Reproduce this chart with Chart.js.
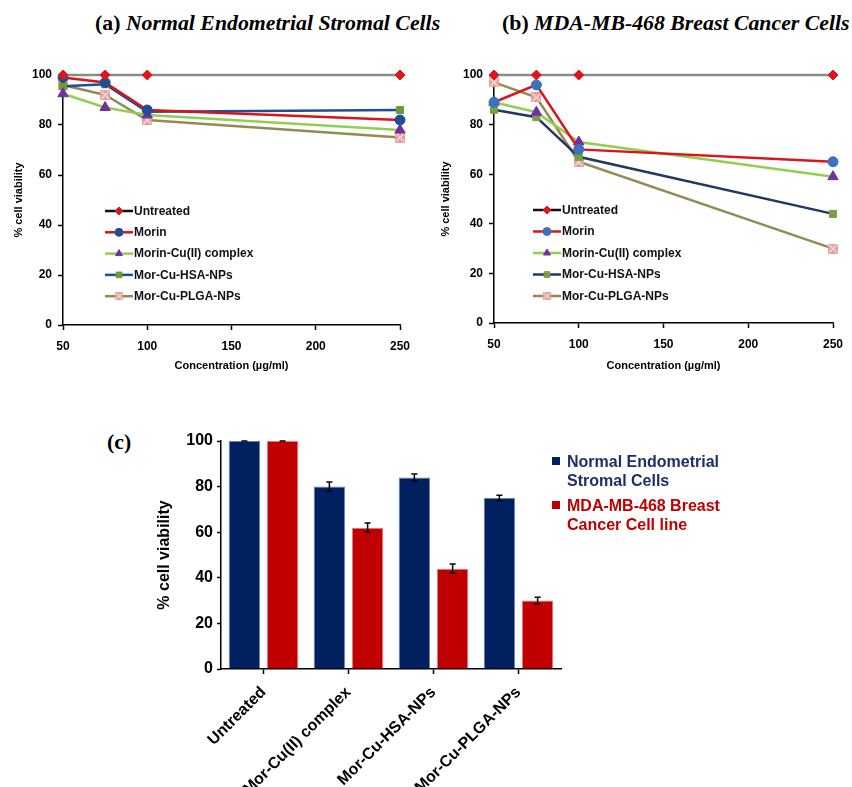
<!DOCTYPE html>
<html>
<head>
<meta charset="utf-8">
<script src="https://cdn.jsdelivr.net/npm/chart.js@4.4.0/dist/chart.umd.min.js"></script>
<style>
body{margin:0;background:#fff;}
#wrap{position:relative;width:852px;height:787px;overflow:hidden;font-family:"Liberation Sans",Arial,sans-serif;}
.box{position:absolute;}
.ttl{position:absolute;font:bold 21.8px "Liberation Serif","Times New Roman",serif;white-space:nowrap;color:#000;}
.ttl i{font-style:italic;}
#legC{position:absolute;left:552px;top:452px;font:bold 16px "Liberation Sans",Arial,sans-serif;line-height:19px;}
#legC .it{position:relative;padding-left:15px;margin-bottom:6px;white-space:nowrap;}
#legC .sw{position:absolute;left:0;top:5px;width:8px;height:8px;}
</style>
</head>
<body>
<div id="wrap">
  <div class="ttl" style="left:95px;top:11px">(a) <i>Normal Endometrial Stromal Cells</i></div>
  <div class="ttl" style="left:502px;top:11px">(b) <i>MDA-MB-468 Breast Cancer Cells</i></div>
  <div class="ttl" style="left:107px;top:430px">(c)</div>
  <div class="box" style="left:0;top:40px;width:425px;height:345px"><canvas id="chartA"></canvas></div>
  <div class="box" style="left:425px;top:40px;width:425px;height:345px"><canvas id="chartB"></canvas></div>
  <div class="box" style="left:100px;top:420px;width:470px;height:367px"><canvas id="chartC"></canvas></div>
  <div id="legC"></div>
</div>
<script>
// concentrations (µg/ml)
var concentrations = [50, 75, 100, 250];

// (a) normal endometrial stromal cells, % viability
var normalUntreated = [100, 100, 100, 100];
var normalMorin     = [99, 97, 86, 82];
var normalMorinCu   = [92.5, 87, 84, 78];
var normalHSA       = [95.5, 96.3, 85.3, 86];
var normalPLGA      = [96, 92, 82, 75];

// (b) MDA-MB-468 cells
var cancerUntreated = [100, 100, 100, 100];
var cancerMorin     = [89, 96, 70, 65];
var cancerMorinCu   = [89, 85, 73, 59];
var cancerHSA       = [86, 83, 67, 44];
var cancerPLGA      = [97, 91, 65, 30];

// (c) bars
var barCategories = ["Untreated", "Mor-Cu(II) complex", "Mor-Cu-HSA-NPs", "Mor-Cu-PLGA-NPs"];
var barNormal     = [100, 80, 84, 75];
var barNormalErr  = [0, 2, 1.5, 1.2];
var barCancer     = [100, 62, 44, 30];
var barCancerErr  = [0, 2, 2, 1.5];

Chart.defaults.font.family = '"Liberation Sans", Arial, sans-serif';
Chart.defaults.color = '#000';

// pink square with light cross marker
function xSquare(){
  var c = document.createElement('canvas');
  c.width = 10; c.height = 10;
  var g = c.getContext('2d');
  g.fillStyle = '#E3A0A0';
  g.fillRect(0, 0, 10, 10);
  g.strokeStyle = '#F6D8D8';
  g.lineWidth = 1.5;
  g.beginPath();
  g.moveTo(1, 1); g.lineTo(9, 9);
  g.moveTo(9, 1); g.lineTo(1, 9);
  g.stroke();
  return c;
}
var plgaMark = xSquare();

function lineSet(label, vals, color, style, pcolor, r, legColor){
  return {
    label: label,
    data: vals.map(function(v, i){ return {x: concentrations[i], y: v}; }),
    borderColor: color,
    backgroundColor: pcolor,
    pointBackgroundColor: pcolor,
    pointBorderColor: pcolor,
    pointBorderWidth: 1,
    pointStyle: style,
    pointRadius: r,
    borderWidth: 2.5,
    tension: 0,
    clip: false,
    legendColor: legColor || color
  };
}

// legend drawn inside the plot area (line + marker + text)
var inLegend = {
  id: 'inLegend',
  afterDraw: function(chart, args, opts){
    var ctx = chart.ctx, area = chart.chartArea;
    ctx.save();
    ctx.font = 'bold 12px "Liberation Sans", Arial, sans-serif';
    ctx.textBaseline = 'middle';
    chart.data.datasets.forEach(function(ds, i){
      var x = area.left + opts.x, y = area.top + opts.y + i * opts.gap;
      ctx.strokeStyle = ds.legendColor;
      ctx.lineWidth = 2.5;
      ctx.beginPath(); ctx.moveTo(x, y); ctx.lineTo(x + 28, y); ctx.stroke();
      ctx.fillStyle = ds.pointBackgroundColor;
      ctx.strokeStyle = ds.pointBorderColor;
      ctx.lineWidth = 1;
      var st = ds.pointStyle;
      if (typeof st === 'string') {
        Chart.helpers.drawPoint(ctx, {pointStyle: st, radius: 4, borderWidth: 1, rotation: 0}, x + 14, y);
      } else {
        ctx.drawImage(st, x + 14 - 4, y - 4, 8, 8);
      }
      ctx.fillStyle = '#111';
      ctx.fillText(ds.label, x + 29, y + 0.5);
    });
    ctx.restore();
  }
};

function lineOptions(yWidth, titlePad, padRight, xHeight, leg){
  return {
    responsive: true,
    maintainAspectRatio: false,
    animation: false,
    layout: {padding: {left: 0, top: 35, right: padRight, bottom: 0}},
    plugins: {legend: {display: false}, tooltip: {enabled: false}, inLegend: leg},
    scales: {
      x: {
        type: 'linear', min: 50, max: 250,
        ticks: {stepSize: 50, font: {size: 12, weight: 'bold'}, padding: 9},
        grid: {drawOnChartArea: false, tickLength: 5, tickColor: '#000', tickWidth: 1.5},
        border: {color: '#000', width: 1.5},
        title: {display: true, text: 'Concentration (µg/ml)', font: {size: 11, weight: 'bold'}, padding: {top: 0, bottom: 12}},
        afterFit: function(s){ s.height = xHeight; s.paddingLeft = 0; s.paddingRight = 0; }
      },
      y: {
        min: 0, max: 100,
        ticks: {stepSize: 20, font: {size: 12, weight: 'bold'}, padding: 6},
        grid: {drawOnChartArea: false, tickLength: 5, tickColor: '#000', tickWidth: 1.5},
        border: {color: '#000', width: 1.5},
        title: {display: true, text: '% cell viability', font: {size: 11, weight: 'bold'}, padding: {top: titlePad, bottom: 0}},
        afterFit: function(s){ s.width = yWidth; }
      }
    }
  };
}

new Chart(document.getElementById('chartA'), {
  type: 'line',
  data: {datasets: [
    lineSet('Untreated', normalUntreated, '#8A8A8A', 'rectRot', '#E0141B', 5, '#111'),
    lineSet('Morin', normalMorin, '#D9151C', 'circle', '#1F4E96', 5),
    lineSet('Morin-Cu(II) complex', normalMorinCu, '#92CF50', 'triangle', '#7030A0', 6),
    lineSet('Mor-Cu-HSA-NPs', normalHSA, '#1F4E96', 'rect', '#6C9B36', 5),
    lineSet('Mor-Cu-PLGA-NPs', normalPLGA, '#948A54', plgaMark, '#E3A0A0', 5)
  ]},
  options: lineOptions(63, 12, 25, 60, {x: 42, y: 136, gap: 21.3}),
  plugins: [inLegend]
});

new Chart(document.getElementById('chartB'), {
  type: 'line',
  data: {datasets: [
    lineSet('Untreated', cancerUntreated, '#8A8A8A', 'rectRot', '#E0141B', 5, '#111'),
    lineSet('Morin', cancerMorin, '#D9151C', 'circle', '#3A72C0', 5),
    lineSet('Morin-Cu(II) complex', cancerMorinCu, '#92CF50', 'triangle', '#7030A0', 6),
    lineSet('Mor-Cu-HSA-NPs', cancerHSA, '#1F3864', 'rect', '#78A040', 5),
    lineSet('Mor-Cu-PLGA-NPs', cancerPLGA, '#948A54', plgaMark, '#E3A0A0', 5)
  ]},
  options: lineOptions(69, 14, 17, 62, {x: 39, y: 135, gap: 21.5}),
  plugins: [inLegend]
});

// error bars on top of each bar
var errorBars = {
  id: 'errorBars',
  afterDatasetsDraw: function(chart){
    var ctx = chart.ctx, ys = chart.scales.y;
    ctx.save();
    ctx.strokeStyle = '#000';
    ctx.lineWidth = 1.5;
    chart.data.datasets.forEach(function(ds, di){
      chart.getDatasetMeta(di).data.forEach(function(bar, i){
        var top = ys.getPixelForValue(ds.data[i] + ds.err[i]);
        var bot = ys.getPixelForValue(ds.data[i] - ds.err[i]);
        ctx.beginPath();
        ctx.moveTo(bar.x, top); ctx.lineTo(bar.x, bot);
        ctx.moveTo(bar.x - 3, top); ctx.lineTo(bar.x + 3, top);
        ctx.moveTo(bar.x - 3, bot); ctx.lineTo(bar.x + 3, bot);
        ctx.stroke();
      });
    });
    ctx.restore();
  }
};

var barChart = new Chart(document.getElementById('chartC'), {
  type: 'bar',
  data: {
    labels: barCategories,
    datasets: [
      {label: ['Normal Endometrial', 'Stromal Cells'], data: barNormal, err: barNormalErr,
       backgroundColor: '#002060', borderColor: '#6E80B0', borderWidth: 1, textColor: '#1F2D6B'},
      {label: ['MDA-MB-468 Breast', 'Cancer Cell line'], data: barCancer, err: barCancerErr,
       backgroundColor: '#C00000', borderColor: '#E27C7C', borderWidth: 1, textColor: '#C00000'}
    ]
  },
  options: {
    responsive: true,
    maintainAspectRatio: false,
    animation: false,
    datasets: {bar: {barPercentage: 0.82, categoryPercentage: 0.9}},
    layout: {padding: {left: 48, top: 21, right: 9, bottom: 0}},
    plugins: {legend: {display: false}, tooltip: {enabled: false}},
    scales: {
      x: {
        grid: {offset: false, drawOnChartArea: false, tickLength: 5, tickColor: '#000', tickWidth: 1.5},
        border: {color: '#000', width: 1.5},
        ticks: {minRotation: 45, maxRotation: 45, autoSkip: false, font: {size: 16, weight: 'bold'}, padding: 9},
        afterFit: function(s){ s.height = 118; s.paddingLeft = 0; s.paddingRight = 0; }
      },
      y: {
        min: 0, max: 100,
        ticks: {stepSize: 20, font: {size: 16, weight: 'bold'}, padding: 4},
        grid: {drawOnChartArea: false, tickLength: 4, tickColor: '#000', tickWidth: 1.5},
        border: {color: '#000', width: 1.5},
        title: {display: true, text: '% cell viability', font: {size: 16, weight: 'bold'}, padding: {top: 7, bottom: 0}},
        afterFit: function(s){ s.width = 73; }
      }
    }
  },
  plugins: [errorBars]
});

// html legend for (c)
var leg = document.getElementById('legC');
barChart.data.datasets.forEach(function(ds){
  var d = document.createElement('div');
  d.className = 'it';
  d.style.color = ds.textColor;
  d.innerHTML = '<span class="sw" style="background:' + ds.backgroundColor + '"></span>' + ds.label.join('<br>');
  leg.appendChild(d);
});
</script>
</body>
</html>
